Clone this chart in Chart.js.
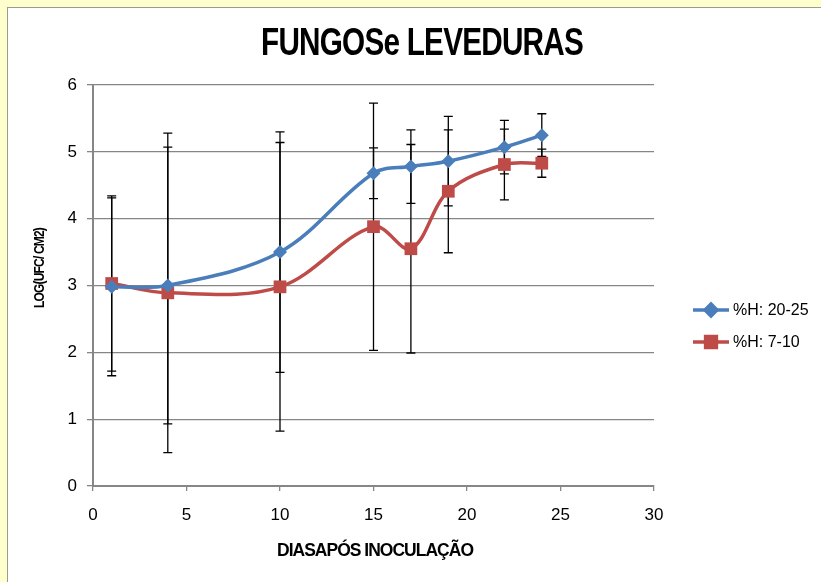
<!DOCTYPE html>
<html>
<head>
<meta charset="utf-8">
<script src="https://cdn.jsdelivr.net/npm/chart.js@4.4.1/dist/chart.umd.min.js"></script>
<style>
    html, body { margin: 0; padding: 0; background: #FFFFCC; width: 821px; height: 582px; overflow: hidden; }
    #panel { position: absolute; left: 7px; top: 7px; width: 814px; height: 575px; background: #fff;
             border-left: 1px solid #9a9a9a; border-top: 1px solid #9a9a9a; }
    #grafico { display: block; }
</style>
</head>
<body>
<div id="panel"><canvas id="grafico" width="813" height="574"></canvas></div>
<script>
// dias apos inoculacao
var dias = [1, 4, 10, 15, 17, 19, 22, 24];
// %H: 20-25
var mediaH20 = [2.98, 3.00, 3.50, 4.68, 4.78, 4.86, 5.07, 5.25];
var erroH20 = [1.33, 2.07, 1.80, 0.38, 0.55, 0.67, 0.40, 0.32];
// %H: 7-10
var mediaH7 = [3.03, 2.89, 2.98, 3.88, 3.55, 4.41, 4.81, 4.83];
var erroH7 = [1.31, 2.39, 2.16, 1.85, 1.56, 0.92, 0.53, 0.21];

var rotulos = ["%H: 20-25", "%H: 7-10"];
var titulo = "FUNGOSe LEVEDURAS";
var tituloX = "DIASAPÓS INOCULAÇÃO";
var tituloY = "LOG(UFC/ CM2)";

var azul = "#4A7EBB";
var vermelho = "#BE4B48";
var cinza = "#868686";
var fonte = "'Liberation Sans', Arial, sans-serif";

function pontos(xs, ys) {
    var r = [];
    for (var i = 0; i < xs.length; i++) r.push({ x: xs[i], y: ys[i] });
    return r;
}

// texto estreito: comprime na horizontal ate a largura pedida
function textoEstreito(ctx, txt, x, y, largura, rot) {
    var w = ctx.measureText(txt).width;
    ctx.save();
    ctx.translate(x, y);
    if (rot) ctx.rotate(rot);
    ctx.scale(largura / w, 1);
    ctx.fillText(txt, 0, 0);
    ctx.restore();
}

// barras de erro (pretas) desenhadas com as escalas do grafico
var barrasErro = {
    id: "barrasErro",
    beforeDatasetsDraw: function (chart) {
        var ctx = chart.ctx, sx = chart.scales.x, sy = chart.scales.y;
        ctx.save();
        ctx.strokeStyle = "#000";
        ctx.lineWidth = 1.3;
        chart.data.datasets.forEach(function (ds) {
            ds.data.forEach(function (p, i) {
                var e = ds.erro[i];
                var x = sx.getPixelForValue(p.x);
                var y1 = sy.getPixelForValue(p.y + e);
                var y2 = sy.getPixelForValue(p.y - e);
                ctx.beginPath();
                ctx.moveTo(x, y1); ctx.lineTo(x, y2);
                ctx.moveTo(x - 4.5, y1); ctx.lineTo(x + 4.5, y1);
                ctx.moveTo(x - 4.5, y2); ctx.lineTo(x + 4.5, y2);
                ctx.stroke();
            });
        });
        ctx.restore();
    }
};

// titulos e legenda
var textos = {
    id: "textos",
    afterDraw: function (chart) {
        var ctx = chart.ctx;
        ctx.save();
        ctx.fillStyle = "#000";
        ctx.textAlign = "center";
        ctx.textBaseline = "middle";

        ctx.letterSpacing = "-1px";
        ctx.font = "bold 39px " + fonte;
        textoEstreito(ctx, titulo, 414, 36, 322);

        ctx.font = "bold 18px " + fonte;
        textoEstreito(ctx, tituloX, 367, 543, 196);

        ctx.font = "bold 15px " + fonte;
        textoEstreito(ctx, tituloY, 32, 260, 80, -Math.PI / 2);

        // legenda
        ctx.letterSpacing = "0px";
        ctx.textAlign = "left";
        ctx.font = "16px " + fonte;
        chart.data.datasets.forEach(function (ds, i) {
            var y = 302 + i * 32;
            ctx.strokeStyle = ds.borderColor;
            ctx.lineWidth = 3.5;
            ctx.beginPath();
            ctx.moveTo(685, y); ctx.lineTo(721, y);
            ctx.stroke();
            Chart.helpers.drawPoint(ctx, {
                pointStyle: ds.pointStyle,
                radius: ds.pointRadius * 0.85,
                borderWidth: 1
            }, 703, y);
            ctx.fillStyle = ds.borderColor;
            ctx.strokeStyle = ds.borderColor;
            ctx.fill();
            ctx.fillStyle = "#000";
            ctx.fillText(ds.label, 725, y + 1);
        });
        ctx.restore();
    }
};

new Chart("grafico", {
    type: "line",
    data: {
        datasets: [{
            label: rotulos[0],
            data: pontos(dias, mediaH20),
            erro: erroH20,
            borderColor: azul,
            backgroundColor: azul,
            borderWidth: 3.5,
            pointStyle: "rectRot",
            pointRadius: 7,
            pointBorderWidth: 0,
            tension: 0.35,
            fill: false
        }, {
            label: rotulos[1],
            data: pontos(dias, mediaH7),
            erro: erroH7,
            borderColor: vermelho,
            backgroundColor: vermelho,
            borderWidth: 3.5,
            pointStyle: "rect",
            pointRadius: 9,
            pointBorderWidth: 0,
            tension: 0.35,
            fill: false
        }]
    },
    options: {
        responsive: false,
        animation: false,
        clip: false,
        layout: { padding: { left: 0, top: 77, right: 167, bottom: 0 } },
        plugins: {
            legend: { display: false },
            title: { display: false },
            tooltip: { enabled: false }
        },
        scales: {
            x: {
                type: "linear",
                min: 0, max: 30,
                ticks: { stepSize: 5, color: "#000", padding: 14, font: { family: fonte, size: 17 } },
                grid: { drawOnChartArea: false, drawTicks: true, tickLength: 5, color: cinza, lineWidth: 1.3 },
                border: { color: cinza, width: 2 },
                afterFit: function (s) { s.height = 96; }
            },
            y: {
                min: 0, max: 6,
                ticks: { stepSize: 1, color: "#000", padding: 10, font: { family: fonte, size: 17 } },
                grid: { color: cinza, lineWidth: 1.3, tickLength: 6 },
                border: { color: cinza, width: 2 },
                afterFit: function (s) { s.width = 85; }
            }
        }
    },
    plugins: [barrasErro, textos]
});
</script>
</body>
</html>
